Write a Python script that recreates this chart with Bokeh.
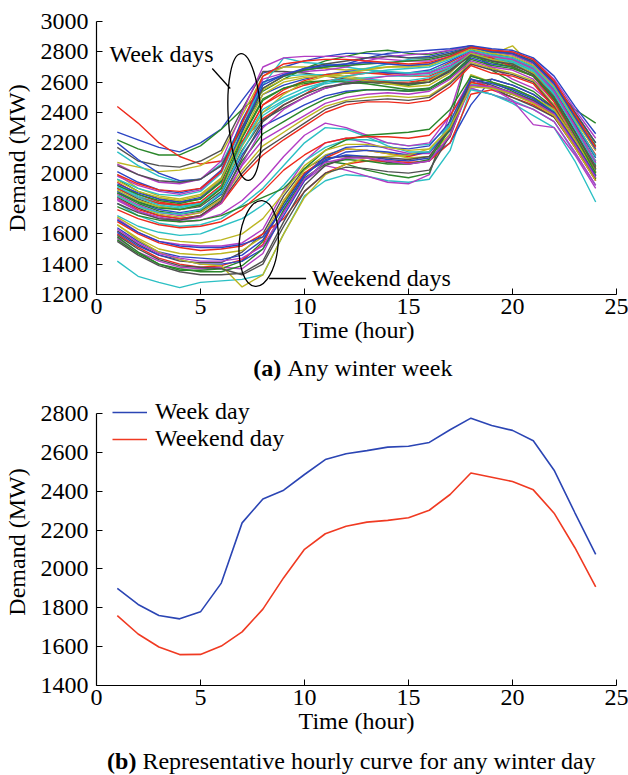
from bokeh.plotting import figure
from bokeh.layouts import column
from bokeh.models import Range1d, Label, Legend, LegendItem, FixedTicker
from bokeh.embed import file_html
from bokeh.resources import INLINE

# ---------------- data ----------------
hours = list(range(1, 25))

# (a) individual winter days - week days
week_day_01 = [2270, 2220, 2170, 2140, 2200, 2290, 2480, 2660, 2700, 2740, 2770, 2790, 2790, 2780, 2760, 2770, 2800, 2830, 2800, 2780, 2720, 2580, 2400, 2200]
week_day_02 = [2220, 2160, 2120, 2120, 2180, 2290, 2420, 2540, 2620, 2690, 2740, 2770, 2800, 2810, 2790, 2780, 2810, 2840, 2790, 2760, 2700, 2560, 2420, 2330]
week_day_03 = [2440, 2330, 2200, 2110, 2060, 2080, 2210, 2360, 2450, 2520, 2600, 2640, 2660, 2660, 2650, 2660, 2730, 2800, 2760, 2740, 2680, 2540, 2330, 2120]
week_day_04 = [2070, 2040, 2010, 2020, 2050, 2130, 2380, 2640, 2700, 2700, 2690, 2680, 2690, 2700, 2700, 2710, 2760, 2820, 2780, 2840, 2700, 2560, 2350, 2150]
week_day_05 = [2170, 2080, 2050, 2040, 2080, 2150, 2420, 2670, 2670, 2660, 2640, 2620, 2610, 2600, 2590, 2620, 2700, 2800, 2760, 2730, 2680, 2540, 2330, 2110]
week_day_06 = [2200, 2090, 2000, 1950, 1960, 2050, 2300, 2520, 2580, 2620, 2650, 2670, 2680, 2660, 2660, 2680, 2740, 2810, 2780, 2760, 2700, 2550, 2320, 2100]
week_day_07 = [2140, 2050, 1980, 1940, 1960, 2060, 2330, 2580, 2760, 2730, 2720, 2700, 2680, 2670, 2660, 2670, 2720, 2790, 2760, 2740, 2680, 2530, 2300, 2080]
week_day_08 = [2060, 1990, 1940, 1930, 1960, 2080, 2400, 2700, 2760, 2770, 2770, 2770, 2760, 2750, 2740, 2740, 2780, 2830, 2800, 2780, 2720, 2580, 2370, 2150]
week_day_09 = [1990, 1900, 1850, 1830, 1860, 1970, 2280, 2550, 2620, 2640, 2650, 2640, 2620, 2600, 2590, 2610, 2690, 2790, 2760, 2740, 2690, 2540, 2310, 2080]
week_day_10 = [1960, 1880, 1830, 1810, 1830, 1940, 2240, 2490, 2560, 2590, 2610, 2610, 2600, 2590, 2580, 2600, 2680, 2780, 2740, 2720, 2660, 2510, 2280, 2050]
week_day_11 = [1940, 1860, 1810, 1790, 1810, 1920, 2200, 2450, 2530, 2580, 2610, 2620, 2610, 2600, 2600, 2620, 2700, 2800, 2770, 2750, 2690, 2540, 2310, 2070]
week_day_12 = [1920, 1850, 1800, 1780, 1800, 1900, 2180, 2400, 2480, 2540, 2590, 2610, 2620, 2610, 2610, 2630, 2690, 2790, 2760, 2740, 2680, 2530, 2290, 2060]
week_day_13 = [1900, 1830, 1780, 1760, 1780, 1880, 2150, 2350, 2430, 2500, 2560, 2590, 2600, 2590, 2590, 2600, 2680, 2780, 2740, 2710, 2660, 2500, 2270, 2040]
week_day_14 = [1880, 1810, 1760, 1740, 1760, 1860, 2120, 2310, 2380, 2450, 2510, 2540, 2550, 2550, 2540, 2560, 2640, 2760, 2720, 2700, 2640, 2490, 2260, 2020]
week_day_15 = [1870, 1800, 1750, 1730, 1750, 1840, 2080, 2260, 2340, 2420, 2490, 2530, 2550, 2550, 2540, 2550, 2630, 2750, 2710, 2690, 2640, 2480, 2250, 2010]
week_day_16 = [1860, 1790, 1740, 1720, 1740, 1830, 2050, 2220, 2300, 2380, 2460, 2500, 2520, 2530, 2520, 2540, 2620, 2740, 2700, 2680, 2620, 2470, 2240, 2000]
week_day_17 = [1850, 1780, 1730, 1710, 1740, 1830, 2020, 2180, 2270, 2360, 2440, 2480, 2500, 2510, 2500, 2510, 2600, 2730, 2690, 2660, 2610, 2450, 2220, 1990]
week_day_18 = [1840, 1770, 1720, 1700, 1720, 1810, 2000, 2150, 2240, 2330, 2420, 2470, 2480, 2490, 2480, 2500, 2590, 2720, 2680, 2650, 2600, 2440, 2210, 1980]
week_day_19 = [1830, 1760, 1720, 1700, 1720, 1800, 1980, 2120, 2220, 2310, 2400, 2450, 2470, 2470, 2460, 2480, 2570, 2710, 2660, 2640, 2590, 2430, 2200, 1960]
week_day_20 = [1960, 1900, 1860, 1850, 1880, 2000, 2300, 2600, 2640, 2650, 2650, 2660, 2690, 2720, 2750, 2760, 2790, 2830, 2800, 2790, 2740, 2600, 2400, 2200]
week_day_21 = [1980, 1920, 1880, 1860, 1890, 2010, 2330, 2620, 2660, 2670, 2680, 2700, 2740, 2770, 2780, 2790, 2810, 2840, 2810, 2800, 2750, 2620, 2420, 2230]
week_day_22 = [2010, 1940, 1890, 1870, 1900, 2020, 2350, 2600, 2650, 2680, 2700, 2720, 2760, 2790, 2800, 2810, 2820, 2840, 2820, 2810, 2760, 2640, 2440, 2260]
week_day_23 = [1920, 1860, 1820, 1800, 1830, 1950, 2270, 2560, 2640, 2680, 2700, 2710, 2720, 2730, 2740, 2750, 2780, 2830, 2800, 2790, 2730, 2600, 2380, 2180]
week_day_24 = [1900, 1840, 1800, 1790, 1810, 1920, 2200, 2450, 2550, 2610, 2650, 2660, 2660, 2650, 2640, 2640, 2700, 2780, 2760, 2700, 2640, 2470, 2250, 2030]
week_day_25 = [1890, 1820, 1780, 1760, 1790, 1900, 2180, 2400, 2520, 2600, 2640, 2660, 2680, 2700, 2710, 2720, 2760, 2820, 2790, 2770, 2710, 2570, 2360, 2150]
week_day_26 = [2050, 1990, 1950, 1940, 1960, 2050, 2300, 2560, 2640, 2690, 2720, 2740, 2760, 2770, 2760, 2760, 2790, 2830, 2810, 2790, 2740, 2600, 2400, 2200]
week_day_27 = [1930, 1870, 1830, 1810, 1840, 1960, 2280, 2580, 2650, 2690, 2710, 2720, 2730, 2720, 2710, 2720, 2770, 2830, 2800, 2790, 2730, 2590, 2370, 2160]
week_day_28 = [1910, 1840, 1790, 1770, 1800, 1910, 2190, 2420, 2500, 2560, 2600, 2620, 2630, 2640, 2640, 2650, 2700, 2780, 2750, 2730, 2670, 2520, 2300, 2080]
week_day_29 = [1820, 1750, 1710, 1690, 1710, 1800, 2060, 2300, 2420, 2500, 2560, 2600, 2620, 2640, 2650, 2660, 2710, 2800, 2770, 2750, 2690, 2540, 2310, 2070]
week_day_30 = [1950, 1880, 1840, 1820, 1850, 1960, 2250, 2520, 2600, 2630, 2640, 2630, 2610, 2590, 2570, 2580, 2660, 2790, 2750, 2720, 2660, 2500, 2260, 2030]
week_day_31 = [1870, 1810, 1770, 1760, 1790, 1900, 2230, 2480, 2560, 2600, 2610, 2600, 2590, 2570, 2550, 2560, 2640, 2770, 2730, 2700, 2640, 2490, 2250, 2000]
week_day_32 = [1990, 1930, 1890, 1880, 1900, 2010, 2330, 2640, 2720, 2740, 2750, 2750, 2740, 2730, 2720, 2730, 2770, 2830, 2810, 2800, 2750, 2610, 2390, 2170]
week_day_33 = [1850, 1780, 1740, 1730, 1760, 1870, 2140, 2380, 2470, 2540, 2600, 2640, 2660, 2680, 2690, 2700, 2750, 2810, 2780, 2760, 2700, 2560, 2340, 2110]
week_day_34 = [1800, 1740, 1700, 1690, 1720, 1820, 2100, 2340, 2450, 2520, 2570, 2590, 2600, 2600, 2590, 2600, 2670, 2780, 2740, 2720, 2650, 2500, 2270, 2030]

# (a) individual winter days - weekend days
weekend_day_01 = [1420, 1320, 1280, 1245, 1280, 1290, 1300, 1330, 1600, 1850, 1950, 1990, 1980, 1950, 1940, 1960, 2150, 2560, 2520, 2480, 2420, 2340, 2130, 1920]
weekend_day_02 = [1570, 1480, 1420, 1380, 1370, 1380, 1370, 1470, 1750, 1950, 2050, 2020, 1980, 1940, 1930, 1990, 2400, 2840, 2700, 2620, 2560, 2450, 2260, 2050]
weekend_day_03 = [1580, 1480, 1400, 1360, 1360, 1370, 1420, 1550, 1800, 2000, 2080, 2060, 2020, 1990, 1970, 2000, 2350, 2830, 2680, 2600, 2540, 2430, 2240, 2030]
weekend_day_04 = [1600, 1510, 1440, 1400, 1380, 1390, 1430, 1530, 1820, 2000, 2100, 2160, 2150, 2130, 2110, 2140, 2300, 2600, 2560, 2520, 2470, 2400, 2200, 1990]
weekend_day_05 = [1620, 1530, 1460, 1420, 1410, 1410, 1480, 1600, 1850, 2030, 2100, 2110, 2100, 2070, 2060, 2080, 2240, 2600, 2620, 2580, 2520, 2430, 2230, 2010]
weekend_day_06 = [1640, 1550, 1480, 1450, 1440, 1430, 1460, 1560, 1780, 1990, 2090, 2120, 2110, 2090, 2080, 2100, 2200, 2450, 2620, 2580, 2520, 2420, 2220, 2000]
weekend_day_07 = [1700, 1610, 1550, 1530, 1520, 1520, 1540, 1630, 1880, 2080, 2200, 2230, 2200, 2160, 2130, 2130, 2310, 2560, 2520, 2470, 2420, 2340, 2140, 1920]
weekend_day_08 = [1660, 1570, 1500, 1470, 1460, 1470, 1490, 1580, 1820, 2020, 2120, 2160, 2150, 2130, 2100, 2110, 2260, 2590, 2560, 2520, 2460, 2390, 2180, 1970]
weekend_day_09 = [1680, 1600, 1540, 1510, 1490, 1500, 1520, 1600, 1700, 1880, 2000, 2060, 2080, 2080, 2070, 2080, 2200, 2520, 2550, 2500, 2450, 2370, 2180, 1960]
weekend_day_10 = [1720, 1650, 1610, 1590, 1600, 1650, 1700, 1790, 1920, 2080, 2170, 2220, 2220, 2200, 2180, 2190, 2320, 2580, 2600, 2560, 2500, 2410, 2200, 1990]
weekend_day_11 = [1610, 1520, 1460, 1430, 1400, 1400, 1420, 1500, 1720, 1950, 2080, 2140, 2150, 2140, 2120, 2140, 2280, 2580, 2560, 2520, 2470, 2390, 2190, 1980]
weekend_day_12 = [1560, 1470, 1400, 1370, 1350, 1350, 1390, 1500, 1760, 1970, 2060, 2090, 2080, 2060, 2060, 2090, 2290, 2640, 2600, 2540, 2480, 2400, 2190, 1970]
weekend_day_13 = [1660, 1560, 1480, 1430, 1400, 1390, 1250, 1330, 1600, 1840, 1990, 2060, 2100, 2110, 2120, 2160, 2300, 2650, 2600, 2560, 2500, 2420, 2220, 2010]
weekend_day_14 = [1590, 1500, 1430, 1390, 1380, 1370, 1330, 1400, 1650, 1880, 2000, 2040, 2030, 2010, 2000, 2020, 2250, 2620, 2560, 2500, 2440, 2370, 2170, 1950]
weekend_day_15 = [1800, 1720, 1670, 1650, 1660, 1700, 1790, 1900, 2050, 2200, 2300, 2290, 2240, 2180, 2140, 2140, 2320, 2550, 2520, 2460, 2380, 2300, 2080, 1810]
weekend_day_16 = [1830, 1750, 1700, 1680, 1690, 1730, 1820, 1950, 2110, 2250, 2330, 2300, 2250, 2200, 2180, 2200, 2380, 2620, 2560, 2480, 2320, 2300, 2120, 1900]
weekend_day_17 = [1780, 1720, 1690, 1680, 1690, 1720, 1780, 1840, 1900, 2030, 2150, 2220, 2250, 2260, 2270, 2290, 2420, 2640, 2600, 2560, 2500, 2400, 2190, 1960]
weekend_day_18 = [1760, 1700, 1660, 1640, 1650, 1680, 1760, 1880, 2020, 2120, 2200, 2230, 2240, 2240, 2230, 2250, 2380, 2600, 2570, 2530, 2470, 2380, 2170, 1950]
weekend_day_19 = [1550, 1460, 1390, 1350, 1330, 1330, 1340, 1420, 1680, 1920, 2050, 2100, 2110, 2100, 2090, 2110, 2300, 2620, 2580, 2530, 2480, 2400, 2200, 1980]
weekend_day_20 = [1690, 1610, 1550, 1520, 1510, 1510, 1530, 1580, 1780, 1980, 2110, 2170, 2180, 2170, 2160, 2180, 2340, 2620, 2590, 2550, 2490, 2400, 2200, 1980]
weekend_day_21 = [1630, 1540, 1470, 1440, 1420, 1420, 1440, 1520, 1740, 1960, 2070, 2100, 2100, 2080, 2060, 2080, 2250, 2580, 2570, 2530, 2470, 2390, 2190, 1970]
weekend_day_22 = [1710, 1630, 1570, 1550, 1540, 1560, 1600, 1700, 1870, 2050, 2150, 2190, 2190, 2170, 2150, 2160, 2300, 2570, 2560, 2520, 2460, 2380, 2170, 1950]

# (b) representative hourly curves
week_day_curve = [1900, 1817, 1760, 1743, 1779, 1927, 2237, 2360, 2405, 2486, 2563, 2593, 2609, 2627, 2631, 2651, 2716, 2776, 2738, 2713, 2660, 2508, 2289, 2075]
weekend_day_curve = [1760, 1665, 1598, 1559, 1560, 1603, 1676, 1793, 1955, 2101, 2181, 2220, 2241, 2250, 2263, 2302, 2383, 2494, 2472, 2450, 2407, 2287, 2109, 1908]

x_ticks = [0, 5, 10, 15, 20, 25]
y_ticks_a = [1200, 1400, 1600, 1800, 2000, 2200, 2400, 2600, 2800, 3000]
y_ticks_b = [1400, 1600, 1800, 2000, 2200, 2400, 2600, 2800]

week_days = [week_day_01, week_day_02, week_day_03, week_day_04, week_day_05, week_day_06, week_day_07,
             week_day_08, week_day_09, week_day_10, week_day_11, week_day_12, week_day_13, week_day_14,
             week_day_15, week_day_16, week_day_17, week_day_18, week_day_19, week_day_20, week_day_21,
             week_day_22, week_day_23, week_day_24, week_day_25, week_day_26, week_day_27, week_day_28,
             week_day_29, week_day_30, week_day_31, week_day_32, week_day_33, week_day_34]
weekend_days = [weekend_day_01, weekend_day_02, weekend_day_03, weekend_day_04, weekend_day_05, weekend_day_06,
                weekend_day_07, weekend_day_08, weekend_day_09, weekend_day_10, weekend_day_11, weekend_day_12,
                weekend_day_13, weekend_day_14, weekend_day_15, weekend_day_16, weekend_day_17, weekend_day_18,
                weekend_day_19, weekend_day_20, weekend_day_21, weekend_day_22]

# ---------------- style ----------------
FONT = "Liberation Serif"
FS = "24px"
palette = ["#2b45c4", "#2a862a", "#ee2a1c", "#2cc0c4", "#b23cc4", "#bcb622", "#505050"]

# interleave curves like a sequence of days
all_days = []
wi, ei = 0, 0
while wi < len(week_days) or ei < len(weekend_days):
    for _ in range(3):
        if wi < len(week_days):
            all_days.append(week_days[wi]); wi += 1
    for _ in range(2):
        if ei < len(weekend_days):
            all_days.append(weekend_days[ei]); ei += 1

FRAME_L, FRAME_R, PAGE_W = 95, 616, 628


def style_axes(p, yticks):
    p.xgrid.visible = False
    p.ygrid.visible = False
    p.outline_line_color = None
    p.xaxis.ticker = FixedTicker(ticks=x_ticks)
    p.yaxis.ticker = FixedTicker(ticks=yticks)
    p.yaxis.bounds = (yticks[0], yticks[-1])
    for ax in (p.xaxis[0], p.yaxis[0]):
        ax.major_tick_in = 6
        ax.major_tick_out = 0
        ax.minor_tick_in = 0
        ax.minor_tick_out = 0
        ax.axis_line_color = "black"
        ax.axis_line_width = 1.2
        ax.major_tick_line_color = "black"
        ax.major_label_text_font = FONT
        ax.major_label_text_font_size = FS
        ax.major_label_text_color = "black"
        ax.axis_label_text_font = FONT
        ax.axis_label_text_font_size = FS
        ax.axis_label_text_font_style = "normal"
        ax.axis_label_text_color = "black"
    p.xaxis.major_label_standoff = 4
    p.xaxis.axis_label_standoff = 0
    p.yaxis.major_label_standoff = 8
    p.yaxis.axis_label_standoff = 8
    p.xaxis.axis_label = "Time (hour)"
    p.yaxis.axis_label = "Demand (MW)"


def caption_figure(height, bold, rest, split_x, center_from_top):
    # frame aligned with the charts above; x data == page pixels
    c = figure(width=PAGE_W, height=height, x_range=Range1d(FRAME_L, FRAME_R), y_range=Range1d(0, height),
               output_backend="svg", toolbar_location=None, x_axis_location=None, y_axis_location=None,
               min_border_left=FRAME_L, min_border_right=PAGE_W - FRAME_R, min_border_top=0, min_border_bottom=0)
    c.xgrid.visible = False
    c.ygrid.visible = False
    c.outline_line_color = None
    y = height - center_from_top
    c.add_layout(Label(x=split_x, y=y, text=bold, text_font=FONT, text_font_size=FS, text_color="black",
                       text_font_style="bold", text_align="right", text_baseline="middle"))
    c.add_layout(Label(x=split_x + 6, y=y, text=rest, text_font=FONT, text_font_size=FS, text_color="black",
                       text_align="left", text_baseline="middle"))
    return c


# ---------------- (a) ----------------
p1 = figure(width=PAGE_W, height=350, x_range=Range1d(0, 25), y_range=Range1d(1200, 3000),
            output_backend="svg", toolbar_location=None,
            min_border_left=FRAME_L, min_border_right=PAGE_W - FRAME_R, min_border_top=21, min_border_bottom=56)
style_axes(p1, y_ticks_a)

xs = [hours for _ in all_days]
colors = [palette[i % len(palette)] for i in range(len(all_days))]
p1.multi_line(xs=xs, ys=all_days, line_color=colors, line_width=1.4)

# pixel -> data helpers for the annotations of (a)
ax_ = lambda px: (px - 95) * 25 / 521
ay_ = lambda py: 3000 - (py - 21) * 1800 / 273

p1.ellipse(x=ax_(243.5), y=ay_(116.5), width=33 * 25 / 521, height=127 * 1800 / 273, angle=0.06,
           fill_alpha=0, line_color="black", line_width=1.3)
p1.ellipse(x=ax_(257.5), y=ay_(243), width=39 * 25 / 521, height=86 * 1800 / 273, angle=-0.08,
           fill_alpha=0, line_color="black", line_width=1.3)
p1.segment(x0=[ax_(211)], y0=[ay_(68)], x1=[ax_(229)], y1=[ay_(88)], line_color="black", line_width=1.3)
p1.segment(x0=[ax_(268)], y0=[ay_(278)], x1=[ax_(305)], y1=[ay_(278)], line_color="black", line_width=1.3)
p1.add_layout(Label(x=ax_(108), y=ay_(53), text="Week days", text_font=FONT, text_font_size=FS,
                    text_color="black", text_align="left", text_baseline="middle"))
p1.add_layout(Label(x=ax_(311), y=ay_(277), text="Weekend days", text_font=FONT, text_font_size=FS,
                    text_color="black", text_align="left", text_baseline="middle"))

cap1 = caption_figure(35, "(a)", "Any winter week", 280, 17)

# ---------------- (b) ----------------
# frame starts 15 px above the 2800 tick so that the legend fits inside; axis line stops at 2800
b_top_extra = 15 * 1400 / 272.3
p2 = figure(width=PAGE_W, height=360, x_range=Range1d(0, 25), y_range=Range1d(1400, 2800 + b_top_extra),
            output_backend="svg", toolbar_location=None,
            min_border_left=FRAME_L, min_border_right=PAGE_W - FRAME_R, min_border_top=13, min_border_bottom=60)
style_axes(p2, y_ticks_b)
r_wd = p2.line(hours, week_day_curve, line_color="#2b45b4", line_width=1.6)
r_we = p2.line(hours, weekend_day_curve, line_color="#f03a22", line_width=1.6)

legend = Legend(items=[LegendItem(label="Week day", renderers=[r_wd]),
                       LegendItem(label="Weekend day", renderers=[r_we])],
                location=(16, 233), border_line_alpha=0, background_fill_alpha=0,
                padding=0, spacing=0, margin=0, glyph_width=35, glyph_height=26,
                label_height=26, label_standoff=8,
                label_text_font=FONT, label_text_font_size=FS, label_text_color="black")
p2.add_layout(legend)

cap2 = caption_figure(30, "(b)", "Representative hourly curve for any winter day", 135, 15)

layout = column(p1, cap1, p2, cap2, spacing=0)
open("out.html", "w").write(file_html(layout, INLINE))
